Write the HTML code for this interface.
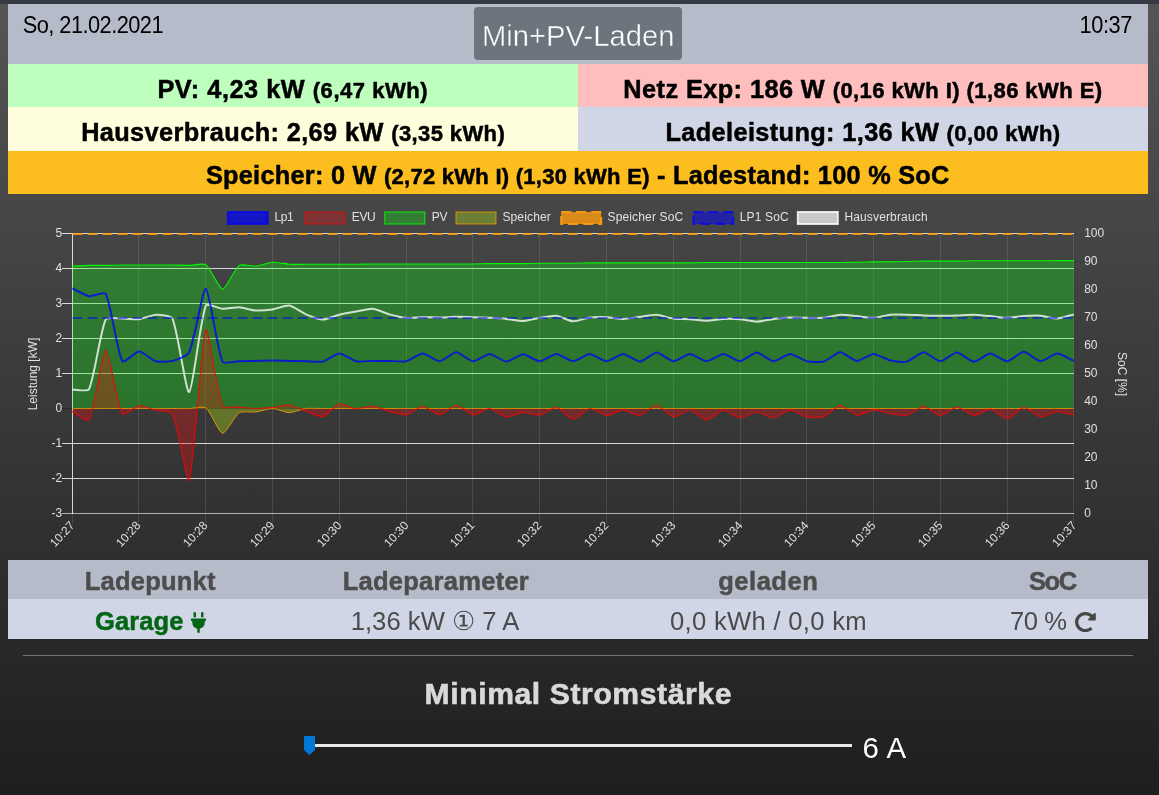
<!DOCTYPE html>
<html lang="de">
<head>
<meta charset="utf-8">
<title>openWB</title>
<style>
*{box-sizing:border-box;margin:0;padding:0}
html,body{width:1159px;height:795px;overflow:hidden}
body{position:relative;background:linear-gradient(to bottom,#555555 0px,#1e1e1e 795px);font-family:"Liberation Sans",Arial,sans-serif;color:#000}
.abs{position:absolute}
.t{position:absolute;white-space:nowrap;line-height:40px;height:40px}
.t small{font-weight:inherit}
#strip{left:0;top:0;width:1159px;height:4px;background:#363a44}
#head{left:8px;top:4px;width:1140px;height:60px;background:#b6bbc9}
#mode{left:474px;top:7px;width:208px;height:53px;border-radius:4px;background:#6c757d}
.row{left:8px;width:1140px;height:43px}
.half{width:570px}
#pv{top:64px;background:#beffbe}
#evu{top:64px;left:578px;background:#ffbebe}
#haus{top:107px;height:44px;background:#fefedc}
#ll{top:107px;height:44px;left:578px;background:#d1d6e7}
#sp{top:151px;background:#fcbe1e}
#chart{position:absolute;left:0;top:195px}
#th{left:8px;top:560px;width:1140px;height:39px;background:#b6bbc9}
#tr{left:8px;top:599px;width:1140px;height:40px;background:#d1d6e7}
#plug{left:191px;top:612.3px}
#redo{left:1075.1px;top:611.8px}
#hr{left:23px;top:655px;width:1110px;height:1px;background:#6c757d}
#track{left:315px;top:744px;width:537px;height:3px;background:#e7eaea}
#thumb{left:304px;top:736px;width:11px;height:19px}
</style>
</head>
<body>
<header>
<div id="strip" class="abs"></div>
<div id="head" class="abs"></div>
<div id="t_date" class="t" style="left:22.75px;top:6.00px;font-size:21.80px;font-weight:400;color:#000;transform:scaleY(1.06);transform-origin:0 27px;letter-spacing:-0.546px">So, 21.02.2021</div>
<div id="mode" class="abs"></div>
<div id="t_mode" class="t" style="left:481.95px;top:16.00px;font-size:29.20px;font-weight:400;color:#fff;-webkit-text-stroke:0.45px #6c757d;letter-spacing:0.018px">Min+PV-Laden</div>
<div id="t_time" class="t" style="left:1079.50px;top:6.00px;font-size:21.80px;font-weight:400;color:#000;transform:scaleY(1.06);transform-origin:0 27px;letter-spacing:-0.400px">10:37</div>
</header>
<section id="info">
<div id="pv" class="abs row half"></div>
<div id="t_pv" class="t" style="left:157.45px;top:69.00px;font-size:25.30px;font-weight:700;color:#000;-webkit-text-stroke:0.50px #000;letter-spacing:0.524px">PV: 4,23 kW <small style="font-size:22.00px">(6,47 kWh)</small></div>
<div id="evu" class="abs row half"></div>
<div id="t_netz" class="t" style="left:623.35px;top:69.00px;font-size:25.30px;font-weight:700;color:#000;-webkit-text-stroke:0.50px #000;letter-spacing:0.428px">Netz Exp: 186 W <small style="font-size:22.00px">(0,16 kWh I) (1,86 kWh E)</small></div>
<div id="haus" class="abs row half"></div>
<div id="t_haus" class="t" style="left:81.15px;top:112.00px;font-size:25.30px;font-weight:700;color:#000;-webkit-text-stroke:0.50px #000;letter-spacing:0.397px">Hausverbrauch: 2,69 kW <small style="font-size:22.00px">(3,35 kWh)</small></div>
<div id="ll" class="abs row half"></div>
<div id="t_ll" class="t" style="left:665.50px;top:112.00px;font-size:25.30px;font-weight:700;color:#000;-webkit-text-stroke:0.50px #000;letter-spacing:0.381px">Ladeleistung: 1,36 kW <small style="font-size:22.00px">(0,00 kWh)</small></div>
<div id="sp" class="abs row"></div>
<div id="t_sp" class="t" style="left:205.95px;top:155.00px;font-size:25.30px;font-weight:700;color:#000;-webkit-text-stroke:0.50px #000;letter-spacing:0.264px">Speicher: 0 W <small style="font-size:22.00px">(2,72 kWh I) (1,30 kWh E)</small> - Ladestand: 100 % SoC</div>
</section>
<section id="livegraph">
<svg id="chart" width="1159" height="370" viewBox="0 195 1159 370" font-family="'Liberation Sans', Arial, sans-serif" font-size="12">
<line x1="138.5" y1="233.0" x2="138.5" y2="523.5" stroke="rgba(255,255,255,0.11)" stroke-width="1"/>
<line x1="205.5" y1="233.0" x2="205.5" y2="523.5" stroke="rgba(255,255,255,0.11)" stroke-width="1"/>
<line x1="272.5" y1="233.0" x2="272.5" y2="523.5" stroke="rgba(255,255,255,0.11)" stroke-width="1"/>
<line x1="339.5" y1="233.0" x2="339.5" y2="523.5" stroke="rgba(255,255,255,0.11)" stroke-width="1"/>
<line x1="406.5" y1="233.0" x2="406.5" y2="523.5" stroke="rgba(255,255,255,0.11)" stroke-width="1"/>
<line x1="472.5" y1="233.0" x2="472.5" y2="523.5" stroke="rgba(255,255,255,0.11)" stroke-width="1"/>
<line x1="539.5" y1="233.0" x2="539.5" y2="523.5" stroke="rgba(255,255,255,0.11)" stroke-width="1"/>
<line x1="606.5" y1="233.0" x2="606.5" y2="523.5" stroke="rgba(255,255,255,0.11)" stroke-width="1"/>
<line x1="673.5" y1="233.0" x2="673.5" y2="523.5" stroke="rgba(255,255,255,0.11)" stroke-width="1"/>
<line x1="740.5" y1="233.0" x2="740.5" y2="523.5" stroke="rgba(255,255,255,0.11)" stroke-width="1"/>
<line x1="806.5" y1="233.0" x2="806.5" y2="523.5" stroke="rgba(255,255,255,0.11)" stroke-width="1"/>
<line x1="873.5" y1="233.0" x2="873.5" y2="523.5" stroke="rgba(255,255,255,0.11)" stroke-width="1"/>
<line x1="940.5" y1="233.0" x2="940.5" y2="523.5" stroke="rgba(255,255,255,0.11)" stroke-width="1"/>
<line x1="1007.5" y1="233.0" x2="1007.5" y2="523.5" stroke="rgba(255,255,255,0.11)" stroke-width="1"/>
<line x1="1073.5" y1="233.0" x2="1073.5" y2="523.5" stroke="rgba(255,255,255,0.11)" stroke-width="1"/>
<line x1="72.5" y1="514.0" x2="72.5" y2="523.5" stroke="rgba(255,255,255,0.11)" stroke-width="1"/>
<line x1="62.0" y1="513.5" x2="1074.0" y2="513.5" stroke="rgba(255,255,255,0.62)" stroke-width="1"/>
<line x1="62.0" y1="478.5" x2="1074.0" y2="478.5" stroke="rgba(255,255,255,0.8)" stroke-width="1"/>
<line x1="62.0" y1="443.5" x2="1074.0" y2="443.5" stroke="rgba(255,255,255,0.8)" stroke-width="1"/>
<line x1="62.0" y1="408.5" x2="1074.0" y2="408.5" stroke="rgba(0,0,0,0.25)" stroke-width="1"/>
<line x1="62.0" y1="373.5" x2="1074.0" y2="373.5" stroke="rgba(255,255,255,0.8)" stroke-width="1"/>
<line x1="62.0" y1="338.5" x2="1074.0" y2="338.5" stroke="rgba(255,255,255,0.8)" stroke-width="1"/>
<line x1="62.0" y1="303.5" x2="1074.0" y2="303.5" stroke="rgba(255,255,255,0.8)" stroke-width="1"/>
<line x1="62.0" y1="268.5" x2="1074.0" y2="268.5" stroke="rgba(255,255,255,0.8)" stroke-width="1"/>
<line x1="62.0" y1="233.5" x2="1074.0" y2="233.5" stroke="rgba(255,255,255,0.8)" stroke-width="1"/>
<line x1="1074.0" y1="513.5" x2="1083.5" y2="513.5" stroke="rgba(0,0,0,0.06)" stroke-width="1"/>
<line x1="1074.0" y1="485.5" x2="1083.5" y2="485.5" stroke="rgba(0,0,0,0.06)" stroke-width="1"/>
<line x1="1074.0" y1="457.5" x2="1083.5" y2="457.5" stroke="rgba(0,0,0,0.06)" stroke-width="1"/>
<line x1="1074.0" y1="429.5" x2="1083.5" y2="429.5" stroke="rgba(0,0,0,0.06)" stroke-width="1"/>
<line x1="1074.0" y1="401.5" x2="1083.5" y2="401.5" stroke="rgba(0,0,0,0.06)" stroke-width="1"/>
<line x1="1074.0" y1="373.5" x2="1083.5" y2="373.5" stroke="rgba(0,0,0,0.06)" stroke-width="1"/>
<line x1="1074.0" y1="345.5" x2="1083.5" y2="345.5" stroke="rgba(0,0,0,0.06)" stroke-width="1"/>
<line x1="1074.0" y1="317.5" x2="1083.5" y2="317.5" stroke="rgba(0,0,0,0.06)" stroke-width="1"/>
<line x1="1074.0" y1="289.5" x2="1083.5" y2="289.5" stroke="rgba(0,0,0,0.06)" stroke-width="1"/>
<line x1="1074.0" y1="261.5" x2="1083.5" y2="261.5" stroke="rgba(0,0,0,0.06)" stroke-width="1"/>
<line x1="1074.0" y1="233.5" x2="1083.5" y2="233.5" stroke="rgba(0,0,0,0.06)" stroke-width="1"/>
<line x1="72.5" y1="233.0" x2="72.5" y2="514.0" stroke="rgba(255,255,255,0.8)" stroke-width="1"/>
<path d="M72.30,408.50C75.64,408.50 85.65,408.50 88.99,408.50C92.33,408.50 102.35,408.50 105.69,408.50C109.03,408.50 119.04,408.50 122.38,408.50C125.72,408.50 135.73,408.50 139.07,408.50C142.41,408.50 152.43,408.50 155.77,408.50C159.11,408.50 169.12,408.50 172.46,408.50C175.80,408.50 185.82,408.57 189.15,408.50C192.49,408.43 203.48,406.04 205.85,407.80C210.16,411.01 218.97,432.83 222.54,433.35C225.65,433.81 235.13,415.32 239.23,412.70C241.81,411.05 252.62,412.42 255.93,412.00C259.30,411.58 269.30,408.43 272.62,408.50C275.97,408.57 285.97,412.70 289.31,412.70C292.65,412.70 302.62,408.93 306.01,408.50C309.29,408.09 319.36,408.50 322.70,408.50C326.04,408.50 336.05,408.50 339.39,408.50C342.73,408.50 352.75,408.50 356.09,408.50C359.43,408.50 369.44,408.50 372.78,408.50C376.12,408.50 386.13,408.50 389.47,408.50C392.81,408.50 402.83,408.50 406.17,408.50C409.51,408.50 419.52,408.50 422.86,408.50C426.20,408.50 436.21,408.50 439.55,408.50C442.89,408.50 452.91,408.50 456.25,408.50C459.59,408.50 469.60,408.50 472.94,408.50C476.28,408.50 486.29,408.50 489.63,408.50C492.97,408.50 502.99,408.50 506.33,408.50C509.67,408.50 519.68,408.50 523.02,408.50C526.36,408.50 536.37,408.50 539.71,408.50C543.05,408.50 553.07,408.50 556.41,408.50C559.75,408.50 569.76,408.50 573.10,408.50C576.44,408.50 586.45,408.50 589.79,408.50C593.13,408.50 603.15,408.50 606.49,408.50C609.83,408.50 619.84,408.50 623.18,408.50C626.52,408.50 636.53,408.50 639.87,408.50C643.21,408.50 653.23,408.50 656.57,408.50C659.91,408.50 669.92,408.50 673.26,408.50C676.60,408.50 686.61,408.50 689.95,408.50C693.29,408.50 703.31,408.50 706.65,408.50C709.99,408.50 720.00,408.50 723.34,408.50C726.68,408.50 736.69,408.50 740.03,408.50C743.37,408.50 753.39,408.50 756.73,408.50C760.07,408.50 770.08,408.50 773.42,408.50C776.76,408.50 786.77,408.50 790.11,408.50C793.45,408.50 803.47,408.50 806.81,408.50C810.15,408.50 820.16,408.50 823.50,408.50C826.84,408.50 836.85,408.50 840.19,408.50C843.53,408.50 853.55,408.50 856.89,408.50C860.23,408.50 870.24,408.50 873.58,408.50C876.92,408.50 886.93,408.50 890.27,408.50C893.61,408.50 903.63,408.50 906.97,408.50C910.31,408.50 920.32,408.50 923.66,408.50C927.00,408.50 937.01,408.50 940.35,408.50C943.69,408.50 953.71,408.50 957.05,408.50C960.39,408.50 970.40,408.50 973.74,408.50C977.08,408.50 987.09,408.50 990.43,408.50C993.77,408.50 1003.79,408.50 1007.13,408.50C1010.47,408.50 1020.48,408.50 1023.82,408.50C1027.16,408.50 1037.17,408.50 1040.51,408.50C1043.85,408.50 1053.87,408.50 1057.21,408.50C1060.55,408.50 1070.56,408.50 1073.90,408.50L1073.50,408.50 L72.50,408.50 Z" fill="rgba(200,255,13,0.3)" stroke="none"/>
<path d="M72.30,266.05C75.64,265.91 85.65,265.42 88.99,265.35C92.33,265.28 102.35,265.38 105.69,265.35C109.03,265.31 119.04,265.04 122.38,265.00C125.72,264.97 135.73,265.00 139.07,265.00C142.41,265.00 152.43,265.00 155.77,265.00C159.11,265.00 169.12,264.97 172.46,265.00C175.80,265.04 185.82,265.38 189.15,265.35C192.49,265.31 203.44,262.93 205.85,264.65C210.12,267.69 219.17,289.08 222.54,289.15C225.85,289.22 234.99,268.28 239.23,265.35C241.67,263.66 252.63,266.36 255.93,266.05C259.31,265.73 269.25,262.38 272.62,262.20C275.93,262.03 285.96,264.09 289.31,264.30C292.64,264.51 302.67,264.30 306.01,264.30C309.35,264.30 319.36,264.30 322.70,264.30C326.04,264.30 336.05,264.30 339.39,264.30C342.73,264.30 352.75,264.33 356.09,264.30C359.43,264.26 369.44,263.99 372.78,263.95C376.12,263.92 386.13,263.95 389.47,263.95C392.81,263.95 402.83,263.95 406.17,263.95C409.51,263.95 419.52,263.95 422.86,263.95C426.20,263.95 436.21,263.95 439.55,263.95C442.89,263.95 452.91,263.95 456.25,263.95C459.59,263.95 469.60,263.98 472.94,263.95C476.28,263.91 486.29,263.64 489.63,263.60C492.97,263.57 502.99,263.60 506.33,263.60C509.67,263.60 519.68,263.63 523.02,263.60C526.36,263.56 536.37,263.29 539.71,263.25C543.05,263.22 553.07,263.25 556.41,263.25C559.75,263.25 569.76,263.28 573.10,263.25C576.44,263.21 586.45,262.94 589.79,262.90C593.13,262.87 603.15,262.90 606.49,262.90C609.83,262.90 619.84,262.90 623.18,262.90C626.52,262.90 636.53,262.90 639.87,262.90C643.21,262.90 653.23,262.90 656.57,262.90C659.91,262.90 669.92,262.90 673.26,262.90C676.60,262.90 686.62,262.93 689.95,262.90C693.29,262.86 703.31,262.59 706.65,262.55C709.98,262.52 720.00,262.55 723.34,262.55C726.68,262.55 736.69,262.55 740.03,262.55C743.37,262.55 753.39,262.55 756.73,262.55C760.07,262.55 770.08,262.55 773.42,262.55C776.76,262.55 786.77,262.55 790.11,262.55C793.45,262.55 803.47,262.55 806.81,262.55C810.15,262.55 820.16,262.55 823.50,262.55C826.84,262.55 836.86,262.58 840.19,262.55C843.53,262.51 853.55,262.27 856.89,262.20C860.23,262.13 870.24,261.89 873.58,261.85C876.92,261.82 886.94,261.88 890.27,261.85C893.61,261.81 903.63,261.57 906.97,261.50C910.31,261.43 920.32,261.19 923.66,261.15C927.00,261.12 937.01,261.15 940.35,261.15C943.69,261.15 953.71,261.18 957.05,261.15C960.39,261.11 970.40,260.84 973.74,260.80C977.08,260.77 987.09,260.80 990.43,260.80C993.77,260.80 1003.79,260.80 1007.13,260.80C1010.47,260.80 1020.48,260.80 1023.82,260.80C1027.16,260.80 1037.17,260.82 1040.51,260.80C1043.85,260.78 1053.87,260.64 1057.21,260.62C1060.55,260.61 1070.56,260.62 1073.90,260.62L1073.50,408.50 L72.50,408.50 Z" fill="rgba(10,255,13,0.3)" stroke="none"/>
<path d="M72.30,411.65C75.64,413.33 87.62,422.59 88.99,420.05C94.29,410.27 102.21,350.67 105.69,350.05C108.89,349.48 117.17,405.42 122.38,414.10C123.85,416.55 135.61,406.10 139.07,405.70C142.28,405.33 152.40,409.44 155.77,410.25C159.08,411.05 171.13,410.96 172.46,413.75C177.81,424.96 187.07,485.49 189.15,480.25C193.75,468.69 201.43,339.60 205.85,329.75C208.11,324.69 217.05,392.97 222.54,405.70C223.72,408.44 235.89,406.82 239.23,407.10C242.57,407.38 252.59,408.46 255.93,408.50C259.26,408.53 269.30,407.80 272.62,407.45C275.97,407.10 286.07,404.63 289.31,405.00C292.75,405.40 302.64,410.13 306.01,411.30C309.31,412.44 319.66,417.22 322.70,416.55C326.34,415.75 335.75,404.79 339.39,403.95C342.43,403.25 352.70,408.64 356.09,408.85C359.38,409.06 369.50,405.81 372.78,406.05C376.17,406.30 386.09,410.41 389.47,411.30C392.77,412.16 402.98,415.27 406.17,414.80C409.66,414.29 419.52,406.40 422.86,406.40C426.20,406.40 436.27,414.94 439.55,414.80C442.95,414.66 452.91,405.00 456.25,405.00C459.59,405.00 469.47,414.44 472.94,414.80C476.14,415.14 486.37,408.29 489.63,408.50C493.05,408.71 502.86,416.50 506.33,416.90C509.54,417.27 519.64,412.53 523.02,412.35C526.32,412.18 536.51,415.62 539.71,415.15C543.19,414.64 553.23,407.08 556.41,407.45C559.91,407.85 569.71,418.89 573.10,419.00C576.39,419.10 586.31,408.86 589.79,408.50C592.99,408.16 603.10,415.36 606.49,415.50C609.78,415.64 619.84,409.90 623.18,409.90C626.52,409.90 636.72,415.96 639.87,415.50C643.40,414.98 653.29,404.86 656.57,405.00C659.97,405.14 669.70,416.34 673.26,416.90C676.38,417.39 686.74,409.95 689.95,410.25C693.42,410.58 703.31,420.05 706.65,420.05C709.99,420.05 719.92,410.47 723.34,410.25C726.59,410.05 736.63,417.77 740.03,417.95C743.31,418.12 753.39,412.00 756.73,412.00C760.07,412.00 770.16,418.16 773.42,417.95C776.83,417.74 786.74,410.01 790.11,409.90C793.41,409.80 803.33,416.17 806.81,416.90C810.01,417.57 820.49,417.94 823.50,416.90C827.16,415.63 836.78,405.53 840.19,405.35C843.45,405.18 853.38,414.67 856.89,415.15C860.06,415.58 870.21,410.04 873.58,409.90C876.88,409.76 886.90,413.22 890.27,413.75C893.57,414.27 903.82,415.84 906.97,415.15C910.50,414.37 920.34,406.37 923.66,406.40C927.01,406.44 936.99,415.43 940.35,415.50C943.66,415.57 953.71,407.10 957.05,407.10C960.39,407.10 970.32,415.29 973.74,415.50C977.00,415.71 987.23,408.86 990.43,409.20C993.91,409.56 1003.87,419.17 1007.13,419.00C1010.54,418.82 1020.39,407.67 1023.82,407.45C1027.06,407.25 1037.03,416.50 1040.51,416.90C1043.71,417.27 1053.82,411.48 1057.21,411.30C1060.50,411.13 1070.56,414.38 1073.90,415.15L1073.50,408.50 L72.50,408.50 Z" fill="rgba(255,10,13,0.3)" stroke="none"/>
<path d="M72.30,389.60C75.64,389.53 87.73,391.90 88.99,389.25C94.41,377.90 100.27,331.06 105.69,319.60C106.95,316.92 119.04,318.59 122.38,318.55C125.72,318.52 135.79,319.63 139.07,319.25C142.47,318.86 152.41,314.77 155.77,314.70C159.09,314.63 171.22,315.68 172.46,318.55C177.90,331.15 186.07,393.24 189.15,392.05C192.75,390.65 200.25,319.57 205.85,305.60C206.93,302.91 219.18,308.57 222.54,308.75C225.86,308.92 235.92,307.18 239.23,307.35C242.60,307.53 252.56,310.29 255.93,310.50C259.24,310.71 269.32,309.93 272.62,309.45C276.00,308.95 286.13,305.13 289.31,305.60C292.81,306.11 302.54,312.90 306.01,314.35C309.22,315.70 319.35,319.56 322.70,319.60C326.03,319.63 336.01,315.51 339.39,314.70C342.69,313.90 352.74,312.15 356.09,311.55C359.42,310.96 369.51,308.48 372.78,308.75C376.18,309.04 386.08,313.43 389.47,314.35C392.76,315.25 402.79,317.57 406.17,317.85C409.47,318.13 419.52,317.19 422.86,317.15C426.20,317.12 436.22,317.53 439.55,317.50C442.89,317.46 452.91,316.84 456.25,316.80C459.58,316.77 469.60,317.05 472.94,317.15C476.28,317.26 486.30,317.68 489.63,317.85C492.97,318.03 503.00,318.59 506.33,318.90C509.68,319.22 519.70,321.10 523.02,321.00C526.37,320.89 536.36,318.38 539.71,317.85C543.04,317.33 553.14,315.41 556.41,315.75C559.82,316.11 569.72,321.17 573.10,321.35C576.39,321.52 586.41,317.93 589.79,317.50C593.09,317.09 603.16,317.01 606.49,317.15C609.83,317.29 619.85,318.93 623.18,318.90C626.52,318.86 636.53,317.22 639.87,316.80C643.21,316.38 653.26,314.53 656.57,314.70C659.94,314.88 669.88,318.09 673.26,318.55C676.56,319.00 686.62,319.04 689.95,319.25C693.30,319.46 703.31,320.68 706.65,320.65C709.99,320.61 719.99,319.04 723.34,318.90C726.67,318.76 736.71,318.97 740.03,319.25C743.39,319.53 753.39,321.73 756.73,321.70C760.07,321.66 770.06,319.32 773.42,318.90C776.74,318.48 786.77,317.61 790.11,317.50C793.45,317.40 803.47,317.81 806.81,317.85C810.14,317.88 820.19,318.16 823.50,317.85C826.87,317.53 836.83,314.88 840.19,314.70C843.51,314.53 853.55,315.79 856.89,316.10C860.23,316.42 870.26,317.99 873.58,317.85C876.94,317.71 886.91,315.02 890.27,314.70C893.58,314.39 903.63,314.63 906.97,314.70C910.31,314.77 920.32,315.29 923.66,315.40C927.00,315.50 937.01,315.75 940.35,315.75C943.69,315.75 953.71,315.50 957.05,315.40C960.39,315.29 970.41,314.63 973.74,314.70C977.08,314.77 987.10,315.79 990.43,316.10C993.78,316.42 1003.79,317.85 1007.13,317.85C1010.47,317.85 1020.47,316.31 1023.82,316.10C1027.15,315.89 1037.20,315.51 1040.51,315.75C1043.87,316.00 1053.90,318.69 1057.21,318.55C1060.57,318.41 1070.56,315.19 1073.90,314.35" fill="none" stroke="rgba(255,255,255,0.78)" stroke-width="2" stroke-linejoin="round"/>
<line x1="72.5" y1="318.0" x2="1073.5" y2="318.0" stroke="rgba(0,0,255,0.5)" stroke-width="2" stroke-dasharray="10 5"/>
<line x1="72.5" y1="234.0" x2="1073.5" y2="234.0" stroke="rgba(255,155,13,0.9)" stroke-width="2" stroke-dasharray="10 5"/>
<path d="M72.30,408.50C75.64,408.50 85.65,408.50 88.99,408.50C92.33,408.50 102.35,408.50 105.69,408.50C109.03,408.50 119.04,408.50 122.38,408.50C125.72,408.50 135.73,408.50 139.07,408.50C142.41,408.50 152.43,408.50 155.77,408.50C159.11,408.50 169.12,408.50 172.46,408.50C175.80,408.50 185.82,408.57 189.15,408.50C192.49,408.43 203.48,406.04 205.85,407.80C210.16,411.01 218.97,432.83 222.54,433.35C225.65,433.81 235.13,415.32 239.23,412.70C241.81,411.05 252.62,412.42 255.93,412.00C259.30,411.58 269.30,408.43 272.62,408.50C275.97,408.57 285.97,412.70 289.31,412.70C292.65,412.70 302.62,408.93 306.01,408.50C309.29,408.09 319.36,408.50 322.70,408.50C326.04,408.50 336.05,408.50 339.39,408.50C342.73,408.50 352.75,408.50 356.09,408.50C359.43,408.50 369.44,408.50 372.78,408.50C376.12,408.50 386.13,408.50 389.47,408.50C392.81,408.50 402.83,408.50 406.17,408.50C409.51,408.50 419.52,408.50 422.86,408.50C426.20,408.50 436.21,408.50 439.55,408.50C442.89,408.50 452.91,408.50 456.25,408.50C459.59,408.50 469.60,408.50 472.94,408.50C476.28,408.50 486.29,408.50 489.63,408.50C492.97,408.50 502.99,408.50 506.33,408.50C509.67,408.50 519.68,408.50 523.02,408.50C526.36,408.50 536.37,408.50 539.71,408.50C543.05,408.50 553.07,408.50 556.41,408.50C559.75,408.50 569.76,408.50 573.10,408.50C576.44,408.50 586.45,408.50 589.79,408.50C593.13,408.50 603.15,408.50 606.49,408.50C609.83,408.50 619.84,408.50 623.18,408.50C626.52,408.50 636.53,408.50 639.87,408.50C643.21,408.50 653.23,408.50 656.57,408.50C659.91,408.50 669.92,408.50 673.26,408.50C676.60,408.50 686.61,408.50 689.95,408.50C693.29,408.50 703.31,408.50 706.65,408.50C709.99,408.50 720.00,408.50 723.34,408.50C726.68,408.50 736.69,408.50 740.03,408.50C743.37,408.50 753.39,408.50 756.73,408.50C760.07,408.50 770.08,408.50 773.42,408.50C776.76,408.50 786.77,408.50 790.11,408.50C793.45,408.50 803.47,408.50 806.81,408.50C810.15,408.50 820.16,408.50 823.50,408.50C826.84,408.50 836.85,408.50 840.19,408.50C843.53,408.50 853.55,408.50 856.89,408.50C860.23,408.50 870.24,408.50 873.58,408.50C876.92,408.50 886.93,408.50 890.27,408.50C893.61,408.50 903.63,408.50 906.97,408.50C910.31,408.50 920.32,408.50 923.66,408.50C927.00,408.50 937.01,408.50 940.35,408.50C943.69,408.50 953.71,408.50 957.05,408.50C960.39,408.50 970.40,408.50 973.74,408.50C977.08,408.50 987.09,408.50 990.43,408.50C993.77,408.50 1003.79,408.50 1007.13,408.50C1010.47,408.50 1020.48,408.50 1023.82,408.50C1027.16,408.50 1037.17,408.50 1040.51,408.50C1043.85,408.50 1053.87,408.50 1057.21,408.50C1060.55,408.50 1070.56,408.50 1073.90,408.50" fill="none" stroke="rgba(255,160,5,0.78)" stroke-width="1"/>
<path d="M72.30,266.05C75.64,265.91 85.65,265.42 88.99,265.35C92.33,265.28 102.35,265.38 105.69,265.35C109.03,265.31 119.04,265.04 122.38,265.00C125.72,264.97 135.73,265.00 139.07,265.00C142.41,265.00 152.43,265.00 155.77,265.00C159.11,265.00 169.12,264.97 172.46,265.00C175.80,265.04 185.82,265.38 189.15,265.35C192.49,265.31 203.44,262.93 205.85,264.65C210.12,267.69 219.17,289.08 222.54,289.15C225.85,289.22 234.99,268.28 239.23,265.35C241.67,263.66 252.63,266.36 255.93,266.05C259.31,265.73 269.25,262.38 272.62,262.20C275.93,262.03 285.96,264.09 289.31,264.30C292.64,264.51 302.67,264.30 306.01,264.30C309.35,264.30 319.36,264.30 322.70,264.30C326.04,264.30 336.05,264.30 339.39,264.30C342.73,264.30 352.75,264.33 356.09,264.30C359.43,264.26 369.44,263.99 372.78,263.95C376.12,263.92 386.13,263.95 389.47,263.95C392.81,263.95 402.83,263.95 406.17,263.95C409.51,263.95 419.52,263.95 422.86,263.95C426.20,263.95 436.21,263.95 439.55,263.95C442.89,263.95 452.91,263.95 456.25,263.95C459.59,263.95 469.60,263.98 472.94,263.95C476.28,263.91 486.29,263.64 489.63,263.60C492.97,263.57 502.99,263.60 506.33,263.60C509.67,263.60 519.68,263.63 523.02,263.60C526.36,263.56 536.37,263.29 539.71,263.25C543.05,263.22 553.07,263.25 556.41,263.25C559.75,263.25 569.76,263.28 573.10,263.25C576.44,263.21 586.45,262.94 589.79,262.90C593.13,262.87 603.15,262.90 606.49,262.90C609.83,262.90 619.84,262.90 623.18,262.90C626.52,262.90 636.53,262.90 639.87,262.90C643.21,262.90 653.23,262.90 656.57,262.90C659.91,262.90 669.92,262.90 673.26,262.90C676.60,262.90 686.62,262.93 689.95,262.90C693.29,262.86 703.31,262.59 706.65,262.55C709.98,262.52 720.00,262.55 723.34,262.55C726.68,262.55 736.69,262.55 740.03,262.55C743.37,262.55 753.39,262.55 756.73,262.55C760.07,262.55 770.08,262.55 773.42,262.55C776.76,262.55 786.77,262.55 790.11,262.55C793.45,262.55 803.47,262.55 806.81,262.55C810.15,262.55 820.16,262.55 823.50,262.55C826.84,262.55 836.86,262.58 840.19,262.55C843.53,262.51 853.55,262.27 856.89,262.20C860.23,262.13 870.24,261.89 873.58,261.85C876.92,261.82 886.94,261.88 890.27,261.85C893.61,261.81 903.63,261.57 906.97,261.50C910.31,261.43 920.32,261.19 923.66,261.15C927.00,261.12 937.01,261.15 940.35,261.15C943.69,261.15 953.71,261.18 957.05,261.15C960.39,261.11 970.40,260.84 973.74,260.80C977.08,260.77 987.09,260.80 990.43,260.80C993.77,260.80 1003.79,260.80 1007.13,260.80C1010.47,260.80 1020.48,260.80 1023.82,260.80C1027.16,260.80 1037.17,260.82 1040.51,260.80C1043.85,260.78 1053.87,260.64 1057.21,260.62C1060.55,260.61 1070.56,260.62 1073.90,260.62" fill="none" stroke="rgba(0,255,0,0.95)" stroke-width="1.1"/>
<path d="M72.30,411.65C75.64,413.33 87.62,422.59 88.99,420.05C94.29,410.27 102.21,350.67 105.69,350.05C108.89,349.48 117.17,405.42 122.38,414.10C123.85,416.55 135.61,406.10 139.07,405.70C142.28,405.33 152.40,409.44 155.77,410.25C159.08,411.05 171.13,410.96 172.46,413.75C177.81,424.96 187.07,485.49 189.15,480.25C193.75,468.69 201.43,339.60 205.85,329.75C208.11,324.69 217.05,392.97 222.54,405.70C223.72,408.44 235.89,406.82 239.23,407.10C242.57,407.38 252.59,408.46 255.93,408.50C259.26,408.53 269.30,407.80 272.62,407.45C275.97,407.10 286.07,404.63 289.31,405.00C292.75,405.40 302.64,410.13 306.01,411.30C309.31,412.44 319.66,417.22 322.70,416.55C326.34,415.75 335.75,404.79 339.39,403.95C342.43,403.25 352.70,408.64 356.09,408.85C359.38,409.06 369.50,405.81 372.78,406.05C376.17,406.30 386.09,410.41 389.47,411.30C392.77,412.16 402.98,415.27 406.17,414.80C409.66,414.29 419.52,406.40 422.86,406.40C426.20,406.40 436.27,414.94 439.55,414.80C442.95,414.66 452.91,405.00 456.25,405.00C459.59,405.00 469.47,414.44 472.94,414.80C476.14,415.14 486.37,408.29 489.63,408.50C493.05,408.71 502.86,416.50 506.33,416.90C509.54,417.27 519.64,412.53 523.02,412.35C526.32,412.18 536.51,415.62 539.71,415.15C543.19,414.64 553.23,407.08 556.41,407.45C559.91,407.85 569.71,418.89 573.10,419.00C576.39,419.10 586.31,408.86 589.79,408.50C592.99,408.16 603.10,415.36 606.49,415.50C609.78,415.64 619.84,409.90 623.18,409.90C626.52,409.90 636.72,415.96 639.87,415.50C643.40,414.98 653.29,404.86 656.57,405.00C659.97,405.14 669.70,416.34 673.26,416.90C676.38,417.39 686.74,409.95 689.95,410.25C693.42,410.58 703.31,420.05 706.65,420.05C709.99,420.05 719.92,410.47 723.34,410.25C726.59,410.05 736.63,417.77 740.03,417.95C743.31,418.12 753.39,412.00 756.73,412.00C760.07,412.00 770.16,418.16 773.42,417.95C776.83,417.74 786.74,410.01 790.11,409.90C793.41,409.80 803.33,416.17 806.81,416.90C810.01,417.57 820.49,417.94 823.50,416.90C827.16,415.63 836.78,405.53 840.19,405.35C843.45,405.18 853.38,414.67 856.89,415.15C860.06,415.58 870.21,410.04 873.58,409.90C876.88,409.76 886.90,413.22 890.27,413.75C893.57,414.27 903.82,415.84 906.97,415.15C910.50,414.37 920.34,406.37 923.66,406.40C927.01,406.44 936.99,415.43 940.35,415.50C943.66,415.57 953.71,407.10 957.05,407.10C960.39,407.10 970.32,415.29 973.74,415.50C977.00,415.71 987.23,408.86 990.43,409.20C993.91,409.56 1003.87,419.17 1007.13,419.00C1010.54,418.82 1020.39,407.67 1023.82,407.45C1027.06,407.25 1037.03,416.50 1040.51,416.90C1043.71,417.27 1053.82,411.48 1057.21,411.30C1060.50,411.13 1070.56,414.38 1073.90,415.15" fill="none" stroke="rgba(255,0,0,0.78)" stroke-width="1.2"/>
<path d="M72.30,288.45C75.64,289.99 85.51,295.60 88.99,296.15C92.19,296.65 104.38,291.16 105.69,293.70C111.06,304.18 117.16,352.21 122.38,361.25C123.83,363.76 135.73,351.45 139.07,351.45C142.41,351.45 152.18,360.24 155.77,361.25C158.86,362.13 169.31,361.73 172.46,360.90C175.99,359.98 187.68,355.69 189.15,352.50C194.35,341.27 202.72,287.95 205.85,288.80C209.40,289.77 217.08,349.76 222.54,361.60C223.76,364.25 235.89,361.32 239.23,361.25C242.57,361.18 252.59,360.97 255.93,360.90C259.27,360.83 269.28,360.55 272.62,360.55C275.96,360.55 285.97,360.83 289.31,360.90C292.65,360.97 302.67,361.18 306.01,361.25C309.35,361.32 319.54,362.33 322.70,361.60C326.21,360.79 336.04,353.59 339.39,353.55C342.72,353.52 352.59,360.48 356.09,361.25C359.26,361.95 369.44,360.94 372.78,360.90C376.12,360.87 386.14,360.87 389.47,360.90C392.81,360.94 402.99,361.95 406.17,361.25C409.67,360.48 419.52,353.55 422.86,353.55C426.20,353.55 436.27,361.39 439.55,361.25C442.95,361.11 452.91,352.15 456.25,352.15C459.59,352.15 469.53,361.07 472.94,361.25C476.21,361.42 486.31,353.87 489.63,353.90C492.99,353.94 502.97,361.56 506.33,361.60C509.65,361.63 519.67,354.29 523.02,354.25C526.35,354.22 536.39,361.28 539.71,361.25C543.06,361.21 553.07,353.90 556.41,353.90C559.75,353.90 569.76,361.25 573.10,361.25C576.44,361.25 586.45,353.90 589.79,353.90C593.13,353.90 603.15,361.25 606.49,361.25C609.83,361.25 619.85,353.87 623.18,353.90C626.53,353.94 636.59,361.74 639.87,361.60C643.27,361.46 653.21,352.54 656.57,352.50C659.89,352.47 669.87,361.11 673.26,361.25C676.54,361.39 686.61,353.90 689.95,353.90C693.29,353.90 703.31,361.25 706.65,361.25C709.99,361.25 720.00,353.90 723.34,353.90C726.68,353.90 736.75,361.39 740.03,361.25C743.43,361.11 753.39,352.50 756.73,352.50C760.07,352.50 770.03,361.11 773.42,361.25C776.70,361.39 786.77,353.90 790.11,353.90C793.45,353.90 803.32,360.45 806.81,361.25C810.00,361.99 820.39,362.45 823.50,361.60C827.07,360.63 836.83,352.22 840.19,352.15C843.50,352.08 853.48,360.72 856.89,360.90C860.16,361.07 870.23,353.94 873.58,353.90C876.91,353.87 886.82,359.75 890.27,360.55C893.49,361.29 903.86,362.38 906.97,361.60C910.53,360.70 920.31,352.19 923.66,352.15C926.98,352.12 937.00,361.21 940.35,361.25C943.68,361.28 953.72,352.47 957.05,352.50C960.40,352.54 970.36,361.49 973.74,361.60C977.04,361.70 987.08,353.59 990.43,353.55C993.76,353.52 1003.86,361.42 1007.13,361.25C1010.54,361.07 1020.48,351.80 1023.82,351.80C1027.16,351.80 1037.10,361.07 1040.51,361.25C1043.78,361.42 1053.85,353.59 1057.21,353.55C1060.53,353.52 1070.56,359.43 1073.90,360.90" fill="none" stroke="rgba(0,0,255,0.75)" stroke-width="2" stroke-linejoin="round"/>
<text x="62.2" y="516.9" text-anchor="end" fill="#e0e0e0">-3</text>
<text x="62.2" y="481.9" text-anchor="end" fill="#e0e0e0">-2</text>
<text x="62.2" y="446.9" text-anchor="end" fill="#e0e0e0">-1</text>
<text x="62.2" y="411.9" text-anchor="end" fill="#e0e0e0">0</text>
<text x="62.2" y="376.9" text-anchor="end" fill="#e0e0e0">1</text>
<text x="62.2" y="341.9" text-anchor="end" fill="#e0e0e0">2</text>
<text x="62.2" y="306.9" text-anchor="end" fill="#e0e0e0">3</text>
<text x="62.2" y="271.9" text-anchor="end" fill="#e0e0e0">4</text>
<text x="62.2" y="236.9" text-anchor="end" fill="#e0e0e0">5</text>
<text x="1084.2" y="516.8" fill="#e0e0e0">0</text>
<text x="1084.2" y="488.8" fill="#e0e0e0">10</text>
<text x="1084.2" y="460.8" fill="#e0e0e0">20</text>
<text x="1084.2" y="432.8" fill="#e0e0e0">30</text>
<text x="1084.2" y="404.8" fill="#e0e0e0">40</text>
<text x="1084.2" y="376.8" fill="#e0e0e0">50</text>
<text x="1084.2" y="348.8" fill="#e0e0e0">60</text>
<text x="1084.2" y="320.8" fill="#e0e0e0">70</text>
<text x="1084.2" y="292.8" fill="#e0e0e0">80</text>
<text x="1084.2" y="264.8" fill="#e0e0e0">90</text>
<text x="1084.2" y="236.8" fill="#e0e0e0">100</text>
<text transform="translate(37.4 374) rotate(-90)" text-anchor="middle" fill="#e0e0e0">Leistung [kW]</text>
<text transform="translate(1117.5 374) rotate(90)" text-anchor="middle" fill="#e0e0e0">SoC [%]</text>
<text transform="translate(75.3 526.0) rotate(-47)" text-anchor="end" font-size="11.9" fill="#e0e0e0">10:27</text>
<text transform="translate(141.3 526.0) rotate(-47)" text-anchor="end" font-size="11.9" fill="#e0e0e0">10:28</text>
<text transform="translate(208.3 526.0) rotate(-47)" text-anchor="end" font-size="11.9" fill="#e0e0e0">10:28</text>
<text transform="translate(275.3 526.0) rotate(-47)" text-anchor="end" font-size="11.9" fill="#e0e0e0">10:29</text>
<text transform="translate(342.3 526.0) rotate(-47)" text-anchor="end" font-size="11.9" fill="#e0e0e0">10:30</text>
<text transform="translate(409.3 526.0) rotate(-47)" text-anchor="end" font-size="11.9" fill="#e0e0e0">10:30</text>
<text transform="translate(475.3 526.0) rotate(-47)" text-anchor="end" font-size="11.9" fill="#e0e0e0">10:31</text>
<text transform="translate(542.3 526.0) rotate(-47)" text-anchor="end" font-size="11.9" fill="#e0e0e0">10:32</text>
<text transform="translate(609.3 526.0) rotate(-47)" text-anchor="end" font-size="11.9" fill="#e0e0e0">10:32</text>
<text transform="translate(676.3 526.0) rotate(-47)" text-anchor="end" font-size="11.9" fill="#e0e0e0">10:33</text>
<text transform="translate(743.3 526.0) rotate(-47)" text-anchor="end" font-size="11.9" fill="#e0e0e0">10:34</text>
<text transform="translate(809.3 526.0) rotate(-47)" text-anchor="end" font-size="11.9" fill="#e0e0e0">10:34</text>
<text transform="translate(876.3 526.0) rotate(-47)" text-anchor="end" font-size="11.9" fill="#e0e0e0">10:35</text>
<text transform="translate(943.3 526.0) rotate(-47)" text-anchor="end" font-size="11.9" fill="#e0e0e0">10:35</text>
<text transform="translate(1010.3 526.0) rotate(-47)" text-anchor="end" font-size="11.9" fill="#e0e0e0">10:36</text>
<text transform="translate(1077.3 526.0) rotate(-47)" text-anchor="end" font-size="11.9" fill="#e0e0e0">10:37</text>
<rect x="227.8" y="212" width="40" height="12" fill="rgba(0,0,255,0.7)" stroke="rgba(0,0,255,0.7)" stroke-width="2"/>
<text x="274.4" y="221.4" fill="#e0e0e0" letter-spacing="-0.4">Lp1</text>
<rect x="304.8" y="212" width="40" height="12" fill="rgba(255,10,13,0.3)" stroke="rgba(255,0,0,0.7)" stroke-width="1"/>
<text x="351.8" y="221.4" fill="#e0e0e0" letter-spacing="-0.4">EVU</text>
<rect x="384.8" y="212" width="40" height="12" fill="rgba(10,255,13,0.3)" stroke="rgba(0,255,0,0.9)" stroke-width="1"/>
<text x="431.8" y="221.4" fill="#e0e0e0" letter-spacing="-0.4">PV</text>
<rect x="456.0" y="212" width="40" height="12" fill="rgba(200,255,13,0.3)" stroke="rgba(255,165,0,0.7)" stroke-width="1"/>
<text x="502.4" y="221.4" fill="#e0e0e0" letter-spacing="0.15">Speicher</text>
<rect x="561.2" y="212" width="40" height="12" fill="rgba(255,155,13,0.8)" stroke="rgba(255,155,13,0.95)" stroke-width="2" stroke-dasharray="10 5"/>
<text x="607.5" y="221.4" fill="#e0e0e0" letter-spacing="0.15">Speicher SoC</text>
<rect x="693.3" y="212" width="40" height="12" fill="rgba(0,0,255,0.5)" stroke="rgba(0,0,255,0.7)" stroke-width="2" stroke-dasharray="10 5"/>
<text x="739.7" y="221.4" fill="#e0e0e0" letter-spacing="0.15">LP1 SoC</text>
<rect x="797.8" y="212" width="40" height="12" fill="rgba(255,255,255,0.7)" stroke="rgba(255,255,255,0.82)" stroke-width="2"/>
<text x="844.4" y="221.4" fill="#e0e0e0" letter-spacing="0.15">Hausverbrauch</text>
</svg>
</section>
<section id="chargepoints">
<div id="th" class="abs"></div>
<div id="t_Ladepunkt" class="t" style="left:84.80px;top:561.00px;font-size:25.50px;font-weight:700;color:#4d4d4d;-webkit-text-stroke:0.50px #4d4d4d;letter-spacing:0.225px">Ladepunkt</div>
<div id="t_Ladeparameter" class="t" style="left:342.65px;top:561.00px;font-size:25.50px;font-weight:700;color:#4d4d4d;-webkit-text-stroke:0.50px #4d4d4d;letter-spacing:0.275px">Ladeparameter</div>
<div id="t_geladen" class="t" style="left:718.15px;top:561.00px;font-size:25.50px;font-weight:700;color:#4d4d4d;-webkit-text-stroke:0.50px #4d4d4d;letter-spacing:0.550px">geladen</div>
<div id="t_SoC" class="t" style="left:1028.90px;top:561.00px;font-size:25.50px;font-weight:700;color:#4d4d4d;-webkit-text-stroke:0.50px #4d4d4d;letter-spacing:-1.400px">SoC</div>
<div id="tr" class="abs"></div>
<div id="t_Garage" class="t" style="left:95.00px;top:601.00px;font-size:25.50px;font-weight:700;color:#046614;-webkit-text-stroke:0.50px #046614;letter-spacing:0.120px">Garage</div>
<svg id="plug" class="abs" width="15" height="20.7" viewBox="0 0 384 512" preserveAspectRatio="none"><path fill="#046614" d="M320 32a32 32 0 0 0-64 0v96h64zm48 128H16a16 16 0 0 0-16 16v32a16 16 0 0 0 16 16h16v32a160.070 160.070 0 0 0 128 156.800V512h64v-99.200A160.070 160.070 0 0 0 352 256v-32h16a16 16 0 0 0 16-16v-32a16 16 0 0 0-16-16zM128 32a32 32 0 0 0-64 0v96h64z"/></svg>
<div id="t_lpp" class="t" style="left:350.65px;top:601.00px;font-size:25.60px;font-weight:400;color:#4b4b4b;letter-spacing:0.058px">1,36 kW &#9312; 7 A</div>
<div id="t_gel" class="t" style="left:670.00px;top:601.00px;font-size:25.60px;font-weight:400;color:#4b4b4b;letter-spacing:0.307px">0,0 kWh / 0,0 km</div>
<div id="t_socv" class="t" style="left:1010.05px;top:601.00px;font-size:25.60px;font-weight:400;color:#4b4b4b;letter-spacing:-0.467px">70 %</div>
<svg id="redo" class="abs" width="20.8" height="20.2" viewBox="8 8 496 496" preserveAspectRatio="none"><path fill="#474747" d="M256.455 8c66.269.119 126.437 26.233 170.859 68.685l35.715-35.715C478.149 25.851 504 36.559 504 57.941V192c0 13.255-10.745 24-24 24H345.941c-21.382 0-32.090-25.851-16.971-40.971l41.750-41.750c-30.864-28.899-70.801-44.907-113.230-45.273-92.398-.798-170.283 73.977-169.484 169.442C88.764 348.009 162.184 424 256 424c41.127 0 79.997-14.678 110.629-41.556 4.743-4.161 11.906-3.908 16.368.553l39.662 39.662c4.872 4.872 4.631 12.815-.482 17.433C378.202 479.813 319.926 504 256 504 119.034 504 8.001 392.967 8 256.002 7.999 119.193 119.646 7.755 256.455 8z"/></svg>
</section>
<div id="hr" class="abs"></div>
<section id="minstrom">
<div id="t_title" class="t" style="left:424.60px;top:674.00px;font-size:30.10px;font-weight:700;color:#d9d9d9;-webkit-text-stroke:0.60px #d9d9d9;letter-spacing:0.600px">Minimal Stromst&auml;rke</div>
<div id="track" class="abs"></div>
<svg id="thumb" class="abs" viewBox="0 0 11 19"><path d="M0 0H11V14L5.500 19L0 14Z" fill="#0078d7"/></svg>
<div id="t_amp" class="t" style="left:862.55px;top:728.00px;font-size:29.40px;font-weight:400;color:#fff;letter-spacing:0.500px">6 A</div>
</section>
</body>
</html>
